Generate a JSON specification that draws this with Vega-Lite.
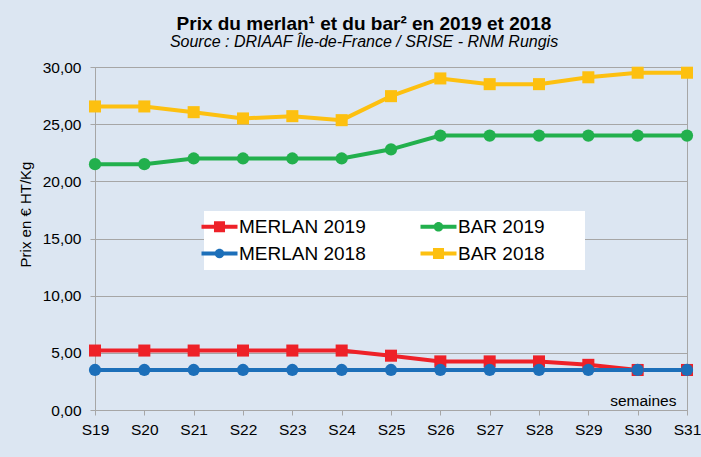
{
  "$schema": "https://vega.github.io/schema/vega-lite/v6.json",
  "autosize": {"type": "none"},
  "padding": {"left": 95, "top": 67, "right": 14, "bottom": 47},
  "width": 592,
  "height": 343,
  "background": "#dce6f2",
  "title": {
    "text": "Prix du merlan¹ et du bar² en 2019 et 2018",
    "subtitle": "Source : DRIAAF Île-de-France  / SRISE - RNM Rungis",
    "anchor": "middle",
    "dx": -27,
    "offset": 10,
    "subtitlePadding": 0,
    "font": "Liberation Sans",
    "fontSize": 19,
    "fontWeight": "bold",
    "color": "#000000",
    "subtitleFont": "Liberation Sans",
    "subtitleFontSize": 16,
    "subtitleFontStyle": "italic",
    "subtitleColor": "#000000"
  },
  "data": {
    "values": [
      {"semaine": "S19", "serie": "MERLAN 2019", "prix": 5.2},
      {"semaine": "S20", "serie": "MERLAN 2019", "prix": 5.2},
      {"semaine": "S21", "serie": "MERLAN 2019", "prix": 5.2},
      {"semaine": "S22", "serie": "MERLAN 2019", "prix": 5.2},
      {"semaine": "S23", "serie": "MERLAN 2019", "prix": 5.2},
      {"semaine": "S24", "serie": "MERLAN 2019", "prix": 5.2},
      {"semaine": "S25", "serie": "MERLAN 2019", "prix": 4.75},
      {"semaine": "S26", "serie": "MERLAN 2019", "prix": 4.25},
      {"semaine": "S27", "serie": "MERLAN 2019", "prix": 4.25},
      {"semaine": "S28", "serie": "MERLAN 2019", "prix": 4.25},
      {"semaine": "S29", "serie": "MERLAN 2019", "prix": 3.95},
      {"semaine": "S30", "serie": "MERLAN 2019", "prix": 3.5},
      {"semaine": "S31", "serie": "MERLAN 2019", "prix": 3.5},
      {"semaine": "S19", "serie": "BAR 2019", "prix": 21.5},
      {"semaine": "S20", "serie": "BAR 2019", "prix": 21.5},
      {"semaine": "S21", "serie": "BAR 2019", "prix": 22.0},
      {"semaine": "S22", "serie": "BAR 2019", "prix": 22.0},
      {"semaine": "S23", "serie": "BAR 2019", "prix": 22.0},
      {"semaine": "S24", "serie": "BAR 2019", "prix": 22.0},
      {"semaine": "S25", "serie": "BAR 2019", "prix": 22.8},
      {"semaine": "S26", "serie": "BAR 2019", "prix": 24.0},
      {"semaine": "S27", "serie": "BAR 2019", "prix": 24.0},
      {"semaine": "S28", "serie": "BAR 2019", "prix": 24.0},
      {"semaine": "S29", "serie": "BAR 2019", "prix": 24.0},
      {"semaine": "S30", "serie": "BAR 2019", "prix": 24.0},
      {"semaine": "S31", "serie": "BAR 2019", "prix": 24.0},
      {"semaine": "S19", "serie": "MERLAN 2018", "prix": 3.5},
      {"semaine": "S20", "serie": "MERLAN 2018", "prix": 3.5},
      {"semaine": "S21", "serie": "MERLAN 2018", "prix": 3.5},
      {"semaine": "S22", "serie": "MERLAN 2018", "prix": 3.5},
      {"semaine": "S23", "serie": "MERLAN 2018", "prix": 3.5},
      {"semaine": "S24", "serie": "MERLAN 2018", "prix": 3.5},
      {"semaine": "S25", "serie": "MERLAN 2018", "prix": 3.5},
      {"semaine": "S26", "serie": "MERLAN 2018", "prix": 3.5},
      {"semaine": "S27", "serie": "MERLAN 2018", "prix": 3.5},
      {"semaine": "S28", "serie": "MERLAN 2018", "prix": 3.5},
      {"semaine": "S29", "serie": "MERLAN 2018", "prix": 3.5},
      {"semaine": "S30", "serie": "MERLAN 2018", "prix": 3.5},
      {"semaine": "S31", "serie": "MERLAN 2018", "prix": 3.5},
      {"semaine": "S19", "serie": "BAR 2018", "prix": 26.55},
      {"semaine": "S20", "serie": "BAR 2018", "prix": 26.55},
      {"semaine": "S21", "serie": "BAR 2018", "prix": 26.05},
      {"semaine": "S22", "serie": "BAR 2018", "prix": 25.5},
      {"semaine": "S23", "serie": "BAR 2018", "prix": 25.7},
      {"semaine": "S24", "serie": "BAR 2018", "prix": 25.35},
      {"semaine": "S25", "serie": "BAR 2018", "prix": 27.45},
      {"semaine": "S26", "serie": "BAR 2018", "prix": 29.0},
      {"semaine": "S27", "serie": "BAR 2018", "prix": 28.5},
      {"semaine": "S28", "serie": "BAR 2018", "prix": 28.5},
      {"semaine": "S29", "serie": "BAR 2018", "prix": 29.1},
      {"semaine": "S30", "serie": "BAR 2018", "prix": 29.5},
      {"semaine": "S31", "serie": "BAR 2018", "prix": 29.5}
    ]
  },
  "encoding": {
    "x": {
      "field": "semaine",
      "type": "ordinal",
      "sort": null,
      "scale": {"type": "point", "padding": 0},
      "axis": {
        "title": "semaines",
        "titleAnchor": "end",
        "titleAlign": "right",
        "titleBaseline": "alphabetic",
        "titleX": 581,
        "titleY": -4.5,
        "titleFont": "Liberation Sans",
        "titleFontSize": 15.5,
        "titleFontWeight": "normal",
        "titleColor": "#000000",
        "labelAngle": 0,
        "labelFont": "Liberation Sans",
        "labelFontSize": 15.5,
        "labelColor": "#000000",
        "labelPadding": 7,
        "tickSize": 5,
        "grid": false
      }
    },
    "y": {
      "field": "prix",
      "type": "quantitative",
      "scale": {"domain": [0, 30], "nice": false, "zero": true},
      "axis": {
        "title": "Prix en € HT/Kg",
        "titleFont": "Liberation Sans",
        "titleFontSize": 15,
        "titleFontWeight": "normal",
        "titleColor": "#000000",
        "titleAngle": -90,
        "titleBaseline": "middle",
        "titleX": -70,
        "titleY": 147,
        "values": [0, 5, 10, 15, 20, 25, 30],
        "labelExpr": "replace(format(datum.value, '.2f'), '.', ',')",
        "labelFont": "Liberation Sans",
        "labelFontSize": 15.5,
        "labelColor": "#000000",
        "labelPadding": 9,
        "tickSize": 5,
        "grid": true
      }
    },
    "color": {
      "field": "serie",
      "type": "nominal",
      "scale": {
        "domain": ["MERLAN 2019", "BAR 2019", "MERLAN 2018", "BAR 2018"],
        "range": ["#ee2128", "#22b04d", "#1c6fb9", "#fdc010"]
      },
      "legend": {
        "title": null,
        "orient": "none",
        "legendX": 109,
        "legendY": 144,
        "direction": "horizontal",
        "columns": 2,
        "columnPadding": 54,
        "rowPadding": 7,
        "padding": 6,
        "fillColor": "#ffffff",
        "strokeColor": null,
        "labelFont": "Liberation Sans",
        "labelFontSize": 19,
        "labelColor": "#000000",
        "labelOffset": 10,
        "labelLimit": 300,
        "symbolSize": 144,
        "symbolStrokeWidth": 0,
        "symbolOpacity": 1
      }
    }
  },
  "layer": [
    {
      "mark": {"type": "line", "strokeWidth": 4}
    },
    {
      "transform": [{"filter": {"field": "serie", "oneOf": ["MERLAN 2019", "BAR 2018"]}}],
      "mark": {"type": "point", "shape": "square", "filled": true, "opacity": 1, "size": 145}
    },
    {
      "transform": [{"filter": {"field": "serie", "oneOf": ["BAR 2019", "MERLAN 2018"]}}],
      "mark": {"type": "point", "shape": "circle", "filled": true, "opacity": 1, "size": 150}
    },
    {
      "transform": [{"filter": "false"}],
      "mark": {"type": "point", "filled": true},
      "encoding": {
        "shape": {
          "field": "serie",
          "type": "nominal",
          "scale": {
            "domain": ["MERLAN 2019", "BAR 2019", "MERLAN 2018", "BAR 2018"],
            "range": [
              "M-7.47,0M-3,-0.33H3V0.33H-3ZM-0.92,-0.92H0.92V0.92H-0.92Z",
              "M23.3,0M-3,-0.33H3V0.33H-3ZM-0.8,0A0.8,0.8,0,1,1,0.8,0A0.8,0.8,0,1,1,-0.8,0Z",
              "M-7.47,0M-3,-0.33H3V0.33H-3ZM-0.8,0A0.8,0.8,0,1,1,0.8,0A0.8,0.8,0,1,1,-0.8,0Z",
              "M23.3,0M-3,-0.33H3V0.33H-3ZM-0.92,-0.92H0.92V0.92H-0.92Z"
            ]
          },
          "legend": {
            "title": null,
            "orient": "none",
            "legendX": 109,
            "legendY": 144,
            "direction": "horizontal",
            "columns": 2,
            "columnPadding": 54,
            "rowPadding": 7,
            "padding": 6,
            "fillColor": "#ffffff",
            "strokeColor": null,
            "labelFont": "Liberation Sans",
            "labelFontSize": 19,
            "labelColor": "#000000",
            "labelOffset": 10,
            "labelLimit": 300,
            "symbolSize": 144,
            "symbolStrokeWidth": 0,
            "symbolOpacity": 1
          }
        }
      }
    }
  ],
  "config": {
    "font": "Liberation Sans",
    "view": {"stroke": "#a6a6a6", "strokeWidth": 1},
    "axis": {
      "domainColor": "#a6a6a6",
      "tickColor": "#a6a6a6",
      "gridColor": "#a6a6a6",
      "gridWidth": 1,
      "domainWidth": 1,
      "tickWidth": 1
    }
  }
}
